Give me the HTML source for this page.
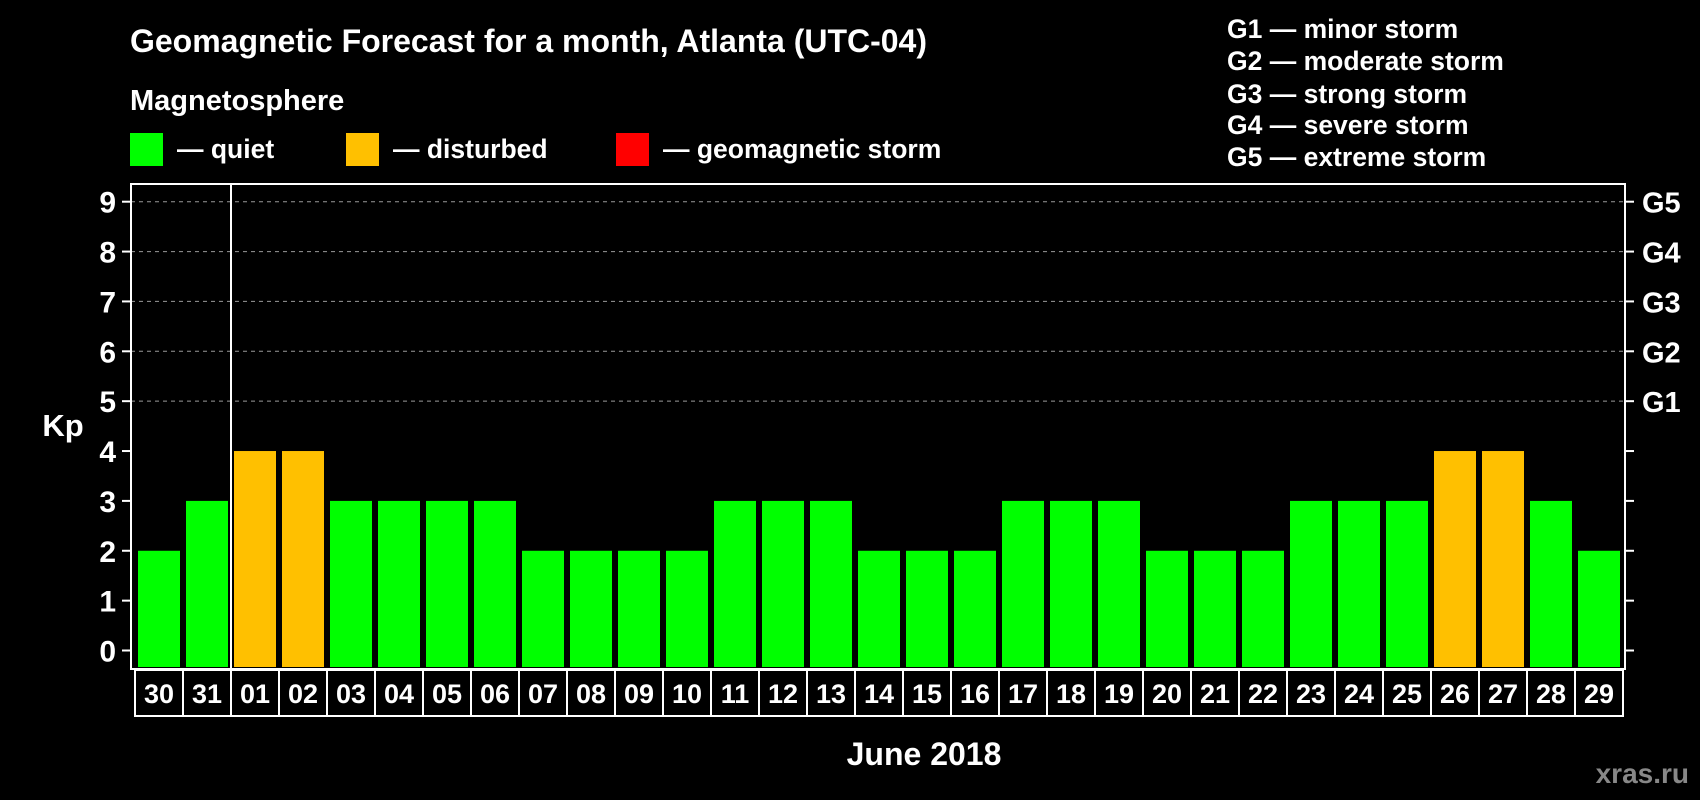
<!DOCTYPE html>
<html><head><meta charset="utf-8"><style>
body{margin:0;background:#000;}
svg{display:block;font-family:"Liberation Sans",Arial,sans-serif;font-weight:bold;}
</style></head><body>
<svg id="c" width="1700" height="800" viewBox="0 0 1700 800">
<rect width="1700" height="800" fill="#000"/>
<text x="130" y="52" fill="#fff" font-size="32" textLength="797">Geomagnetic Forecast for a month, Atlanta (UTC-04)</text>
<text x="130" y="110" fill="#fff" font-size="29">Magnetosphere</text>
<g><rect x="130" y="133" width="33" height="33" fill="#00ff00"/><text x="177" y="158" fill="#fff" font-size="26.5">— quiet</text></g>
<g><rect x="346" y="133" width="33" height="33" fill="#ffc000"/><text x="393" y="158" fill="#fff" font-size="26.5">— disturbed</text></g>
<g><rect x="616" y="133" width="33" height="33" fill="#ff0000"/><text x="663" y="158" fill="#fff" font-size="26.5">— geomagnetic storm</text></g>
<g fill="#fff" font-size="26.5">
<text x="1227" y="38">G1 — minor storm</text>
<text x="1227" y="70">G2 — moderate storm</text>
<text x="1227" y="103">G3 — strong storm</text>
<text x="1227" y="134">G4 — severe storm</text>
<text x="1227" y="166">G5 — extreme storm</text>
</g>
<text x="63" y="436" fill="#fff" font-size="31" text-anchor="middle">Kp</text>
<text x="924" y="765" fill="#fff" font-size="32" text-anchor="middle">June 2018</text>
<text x="1689" y="783" fill="#888" font-size="28" text-anchor="end">xras.ru</text>
<g id="grid"></g><g id="bars"></g><g id="axes"></g>
</svg>
<script>
const days=["30","31","01","02","03","04","05","06","07","08","09","10","11","12","13","14","15","16","17","18","19","20","21","22","23","24","25","26","27","28","29"];
const kp=[2,3,4,4,3,3,3,3,2,2,2,2,3,3,3,2,2,2,3,3,3,2,2,2,3,3,3,4,4,3,2];
const yTicks=[0,1,2,3,4,5,6,7,8,9];
const gLabels=["","","","","","G1","G2","G3","G4","G5"];
const NS="http://www.w3.org/2000/svg";
const L=131,R=1625,T=184,B=669,step=48,x0=135;
const y=v=>650.5-v*(650.5-201.7)/9;
const xs=i=>x0+i*step;
function mk(t,a,p){const e=document.createElementNS(NS,t);for(const k in a)e.setAttribute(k,a[k]);p.appendChild(e);return e;}
const grid=document.getElementById('grid'),bars=document.getElementById('bars'),axes=document.getElementById('axes');
yTicks.forEach((v,i)=>{
 if(v>=5){const g=mk('line',{x1:L,x2:R,y1:y(v),y2:y(v),stroke:'#999','stroke-dasharray':'4,4','stroke-width':1},grid);
 
 }
 const t1=mk('line',{x1:L-9,x2:L,y1:y(v),y2:y(v),stroke:'#fff','stroke-width':2},axes);
 
 
 const t2=mk('line',{x1:R,x2:R+9,y1:y(v),y2:y(v),stroke:'#fff','stroke-width':2},axes);
 
 
 const l=mk('text',{x:116,y:y(v)+11,fill:'#fff','font-size':30,'text-anchor':'end'},axes);l.textContent=v;
 
 
 if(gLabels[i]){const g=mk('text',{x:1642,y:y(v)+11,fill:'#fff','font-size':29},axes);g.textContent=gLabels[i];
 
 }
});
kp.forEach((v,i)=>{
 const c=v>=5?'#ff0000':(v>=4?'#ffc000':'#00ff00');
 const b=mk('rect',{x:xs(i)+3,y:y(v),width:42,height:B-2-y(v),fill:c},bars);
 
 
 const bx=mk('rect',{x:xs(i),y:B+1,width:step,height:46,fill:'none',stroke:'#fff','stroke-width':2},axes);
 
 
 const t=mk('text',{x:xs(i)+step/2,y:B+34,fill:'#fff','font-size':27,'text-anchor':'middle'},axes);t.textContent=days[i];
 
 
});
const fr=mk('rect',{x:L,y:T,width:R-L,height:B-T,fill:'none',stroke:'#fff','stroke-width':2},axes);


const ml=mk('line',{x1:xs(2),x2:xs(2),y1:T,y2:B+47,stroke:'#fff','stroke-width':2},axes);


</script>
</body></html>
